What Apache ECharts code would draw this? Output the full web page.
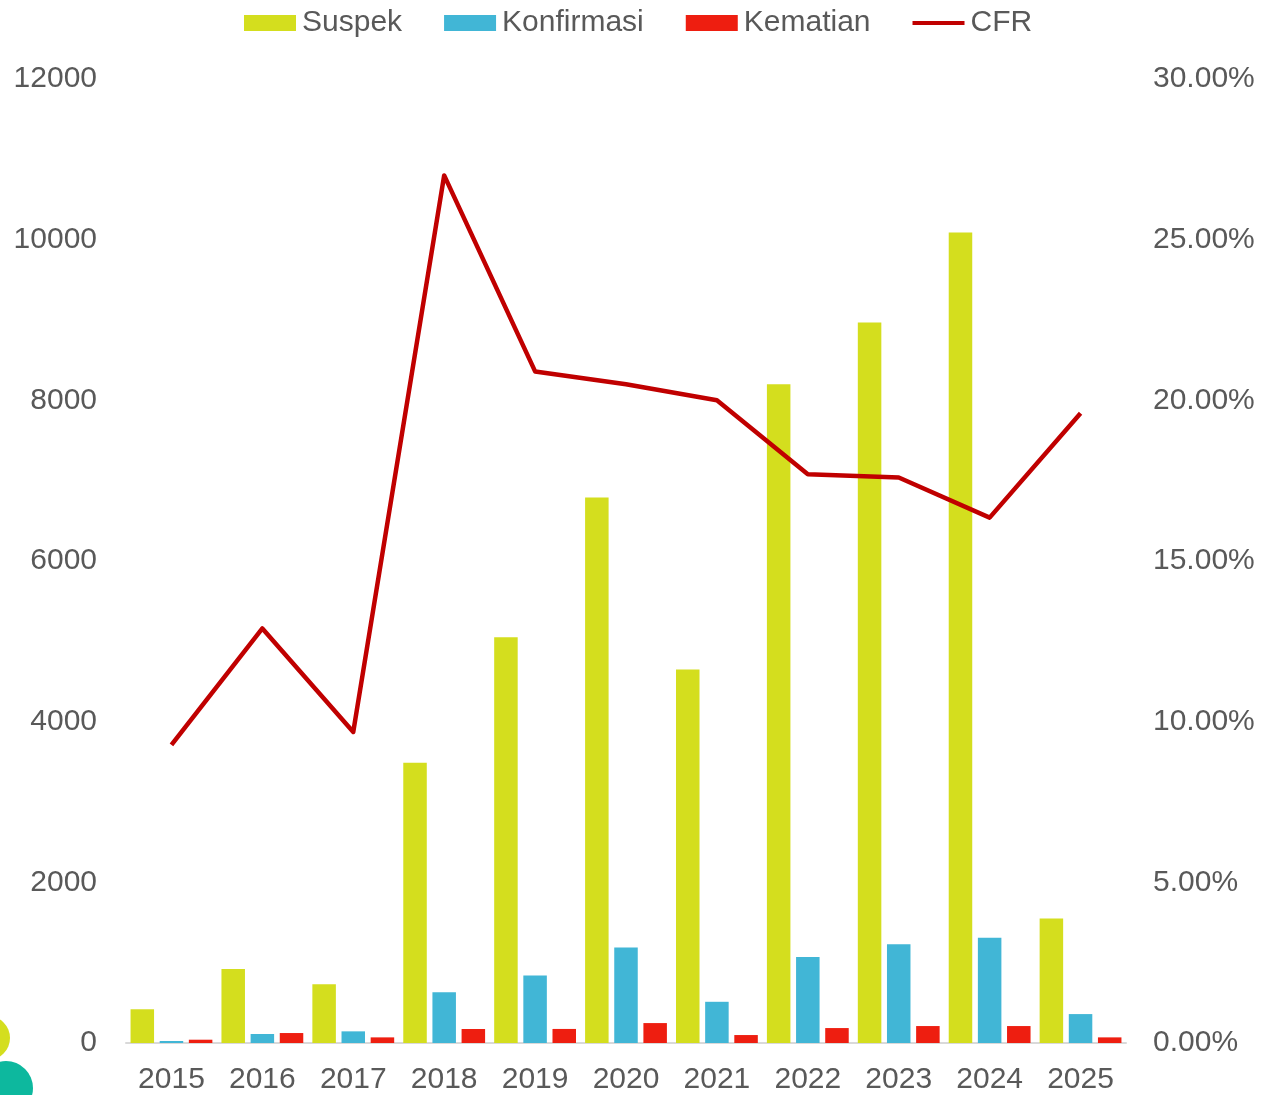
<!DOCTYPE html>
<html>
<head>
<meta charset="utf-8">
<script src="https://cdn.jsdelivr.net/npm/echarts@6/dist/echarts.min.js"></script>
<style>
  html, body { margin: 0; padding: 0; background: #fff; }
  #chart { width: 1266px; height: 1095px; }
</style>
</head>
<body>
<div id="chart"></div>
<script>
// data
const years = ['2015', '2016', '2017', '2018', '2019', '2020', '2021', '2022', '2023', '2024', '2025'];
const suspek = [420, 920, 730, 3490, 5050, 6790, 4650, 8200, 8970, 10090, 1550];
const konfirmasi = [25, 112, 145, 633, 840, 1190, 513, 1070, 1230, 1310, 360];
const kematian = [41, 124, 70, 174, 175, 248, 99, 186, 211, 211, 70];
const cfr = [0.0928, 0.129, 0.0968, 0.270, 0.209, 0.205, 0.200, 0.177, 0.176, 0.1635, 0.196];

const font = 'Liberation Sans, Arial, sans-serif';
const grey = '#595959';

const chart = echarts.init(document.getElementById('chart'));
const option = {
  animation: false,
  textStyle: { fontFamily: font },
  legend: {
    top: 3,
    left: 239,
    itemWidth: 52,
    itemHeight: 16,
    itemGap: 42,
    icon: 'rect',
    textStyle: { fontSize: 30, color: grey, fontFamily: font, padding: [0, 0, 0, 1] },
    data: [
      { name: 'Suspek' },
      { name: 'Konfirmasi' },
      { name: 'Kematian' },
      { name: 'CFR', icon: 'path://M0,6L52,6L52,10L0,10Z', itemStyle: { color: '#C00000' } }
    ]
  },
  grid: { left: 126, right: 140, top: 79, bottom: 46 },
  xAxis: {
    type: 'category',
    data: years,
    axisLine: { lineStyle: { color: '#D9D9D9', width: 2 } },
    axisTick: { show: false },
    axisLabel: { fontSize: 30, color: grey, margin: 22 }
  },
  yAxis: [
    {
      type: 'value',
      min: 0,
      max: 12000,
      interval: 2000,
      splitLine: { show: false },
      axisLine: { show: false },
      axisLabel: { fontSize: 30, color: grey, margin: 29, formatter: v => String(v) }
    },
    {
      type: 'value',
      min: 0,
      max: 0.3,
      interval: 0.05,
      splitLine: { show: false },
      axisLine: { show: false },
      axisLabel: {
        fontSize: 30, color: grey, margin: 27,
        formatter: v => (v * 100).toFixed(2) + '%'
      }
    }
  ],
  graphic: [
    { type: 'circle', shape: { cx: -12, cy: 1038, r: 22 }, style: { fill: '#D4DE1E' }, z: -1 },
    { type: 'circle', shape: { cx: 6, cy: 1088, r: 27 }, style: { fill: '#0DB89E' }, z: -1 }
  ],
  series: [
    {
      name: 'Suspek', type: 'bar', data: suspek,
      barGap: '24%', barCategoryGap: '10%',
      itemStyle: { color: '#D4DE1E' }
    },
    {
      name: 'Konfirmasi', type: 'bar', data: konfirmasi,
      itemStyle: { color: '#41B6D6' }
    },
    {
      name: 'Kematian', type: 'bar', data: kematian,
      itemStyle: { color: '#EE1E10' }
    },
    {
      name: 'CFR', type: 'line', yAxisIndex: 1, data: cfr,
      symbol: 'none',
      lineStyle: { color: '#C00000', width: 4.5, join: 'round' },
      itemStyle: { color: '#C00000' },
      z: 5
    }
  ]
};
chart.setOption(option);
</script>
</body>
</html>
